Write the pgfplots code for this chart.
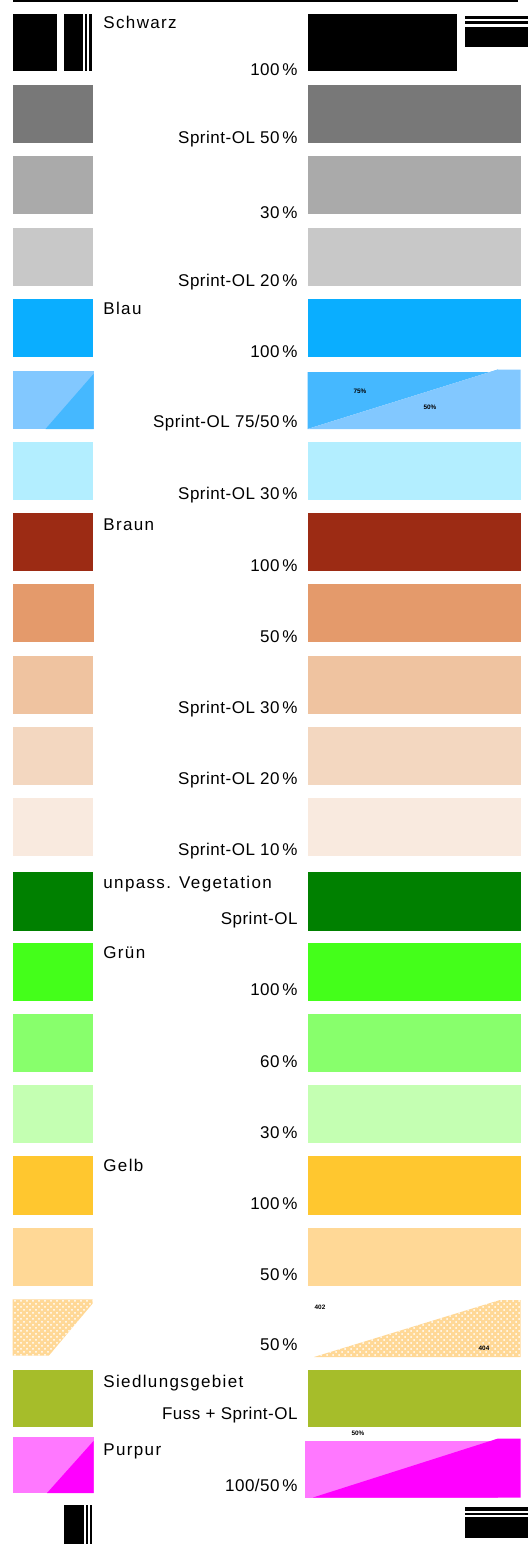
\documentclass[border=0pt]{standalone}
\usepackage{pgfplots}
\pgfplotsset{compat=1.18}
\usepackage{fontspec}
\setmainfont{Liberation Sans}
\usetikzlibrary{patterns}
\definecolor{gA}{HTML}{787878}
\definecolor{gB}{HTML}{AAAAAA}
\definecolor{gC}{HTML}{C8C8C8}
\definecolor{bA}{HTML}{0AAEFF}
\definecolor{bB}{HTML}{45B8FF}
\definecolor{bC}{HTML}{82C8FF}
\definecolor{bD}{HTML}{B3EEFF}
\definecolor{rA}{HTML}{9C2B14}
\definecolor{rB}{HTML}{E49A6B}
\definecolor{rC}{HTML}{EFC3A0}
\definecolor{rD}{HTML}{F3D7C0}
\definecolor{rE}{HTML}{F9EADF}
\definecolor{vA}{HTML}{008000}
\definecolor{vB}{HTML}{44FF1A}
\definecolor{vC}{HTML}{88FF6C}
\definecolor{vD}{HTML}{C4FFB2}
\definecolor{yA}{HTML}{FFC72F}
\definecolor{yB}{HTML}{FFD896}
\definecolor{oA}{HTML}{A6BD2A}
\definecolor{mA}{HTML}{FF00FF}
\definecolor{mB}{HTML}{FF78FF}
% swatch: colour, x1, y1, x2, y2
\newcommand{\sw}[5]{\addplot[draw=none,fill=#1] coordinates {(#2,#3)(#4,#3)(#4,#5)(#2,#5)};}
% row with left and right swatch: colour, top, bottom
\newcommand{\swrow}[3]{%
  \sw{#1}{12.5}{#2}{92.5}{#3}
  \sw{#1}{307.5}{#2}{520.5}{#3}}
\newcommand{\toplab}[2]{\node[anchor=base west,inner sep=0pt,font=\fontsize{8.5}{10}\selectfont\addfontfeatures{LetterSpace=8}] at (axis cs:103,#1) {#2};}
\newcommand{\botlab}[2]{\node[anchor=base east,inner sep=0pt] at (axis cs:298,#1) {#2};}
\newcommand{\tlab}[3]{\node[inner sep=0pt,font=\fontsize{3.2}{3.2}\selectfont\bfseries] at (axis cs:#1,#2) {#3};}
\begin{document}
\begin{tikzpicture}
\begin{axis}[hide axis, scale only axis, width=264pt, height=772pt,
  xmin=0, xmax=528, ymin=0, ymax=1544, y dir=reverse, clip=false, no markers,
  font=\fontsize{8.5}{10}\selectfont\addfontfeatures{LetterSpace=3}]
% background
\sw{white}{0}{0}{528}{1544}
% top rule
\sw{black}{13}{0}{518}{1.7}
% row 1 Schwarz
\sw{black}{12.5}{14}{56.7}{70.7}
\sw{black}{64}{14}{83.3}{70.7}
\sw{black}{85.3}{14}{87.3}{70.7}
\sw{black}{89.3}{14}{91.7}{70.7}
\sw{black}{307.5}{14}{457}{70.7}
\sw{black}{465}{16}{528}{19.3}
\sw{black}{465}{21.3}{528}{24.5}
\sw{black}{465}{27}{528}{47}
% grey rows
\swrow{gA}{85}{143}
\swrow{gB}{156.5}{214.5}
\swrow{gC}{228}{286}
% blue
\swrow{bA}{299}{357}
\sw{bC}{12.5}{371}{93.5}{429}
\addplot[draw=none,fill=bB] coordinates {(45.5,429)(93.5,374)(93.5,429)};
\addplot[draw=none,fill=bB] coordinates {(307.5,372)(498,372)(498,369.5)(307.5,429)};
\addplot[draw=none,fill=bC] coordinates {(307.5,429)(498,369.5)(520.5,369.5)(520.5,429)};
\swrow{bD}{442}{500}
% brown
\swrow{rA}{512.5}{570.5}
\sw{rB}{12.5}{584}{93.5}{642}
\sw{rB}{307.5}{584}{520.5}{642}
\swrow{rC}{655.5}{713.5}
\swrow{rD}{727}{785}
\swrow{rE}{798}{856}
% green
\swrow{vA}{872}{930.5}
\swrow{vB}{942.5}{1000.5}
\swrow{vC}{1013.5}{1071.5}
\swrow{vD}{1085}{1143}
% yellow
\swrow{yA}{1156}{1214.5}
\swrow{yB}{1227.5}{1286}
\addplot[draw=none,fill=yB,postaction={pattern=crosshatch dots,pattern color=white}] coordinates {(12.5,1299.4)(92.6,1299.4)(92.6,1303.5)(48.8,1355.7)(12.5,1355.7)};
\addplot[draw=none,fill=yB,postaction={pattern=crosshatch dots,pattern color=white}] coordinates {(314,1357)(500,1300)(520.5,1300)(520.5,1357)};
% olive
\swrow{oA}{1370}{1426.5}
% purple
\sw{mB}{12.5}{1437}{93.5}{1493}
\addplot[draw=none,fill=mA] coordinates {(47,1493)(93.5,1441)(93.5,1493)};
\sw{mB}{305}{1441}{498}{1497.5}
\addplot[draw=none,fill=mA] coordinates {(313,1497.5)(498,1438.5)(520.5,1438.5)(520.5,1497.5)};
% bottom bars
\sw{black}{64}{1505}{84}{1544}
\sw{black}{86}{1505}{87.7}{1544}
\sw{black}{90}{1505}{92.3}{1544}
\sw{black}{465}{1506.7}{528}{1510.7}
\sw{black}{465}{1512.7}{528}{1515}
\sw{black}{465}{1517.3}{528}{1538.3}
% labels
\toplab{29}{Schwarz}
\botlab{76}{100\,\%}
\botlab{144}{Sprint-OL 50\,\%}
\botlab{219}{30\,\%}
\botlab{287}{Sprint-OL 20\,\%}
\toplab{315}{Blau}
\botlab{357}{100\,\%}
\botlab{427}{Sprint-OL 75/50\,\%}
\botlab{499}{Sprint-OL 30\,\%}
\toplab{530}{Braun}
\botlab{571}{100\,\%}
\botlab{642}{50\,\%}
\botlab{713}{Sprint-OL 30\,\%}
\botlab{784}{Sprint-OL 20\,\%}
\botlab{855}{Sprint-OL 10\,\%}
\toplab{888}{unpass. Vegetation}
\botlab{924}{Sprint-OL}
\toplab{958.5}{Grün}
\botlab{995}{100\,\%}
\botlab{1067}{60\,\%}
\botlab{1138}{30\,\%}
\toplab{1171}{Gelb}
\botlab{1209}{100\,\%}
\botlab{1280}{50\,\%}
\botlab{1350}{50\,\%}
\toplab{1387}{Siedlungsgebiet}
\botlab{1419}{Fuss + Sprint-OL}
\toplab{1455}{Purpur}
\botlab{1491}{100/50\,\%}
% tiny labels
\tlab{360}{391}{75\%}
\tlab{430}{407}{50\%}
\tlab{320}{1307}{402}
\tlab{484}{1348}{404}
\tlab{358}{1433}{50\%}
\end{axis}
\end{tikzpicture}
\end{document}
